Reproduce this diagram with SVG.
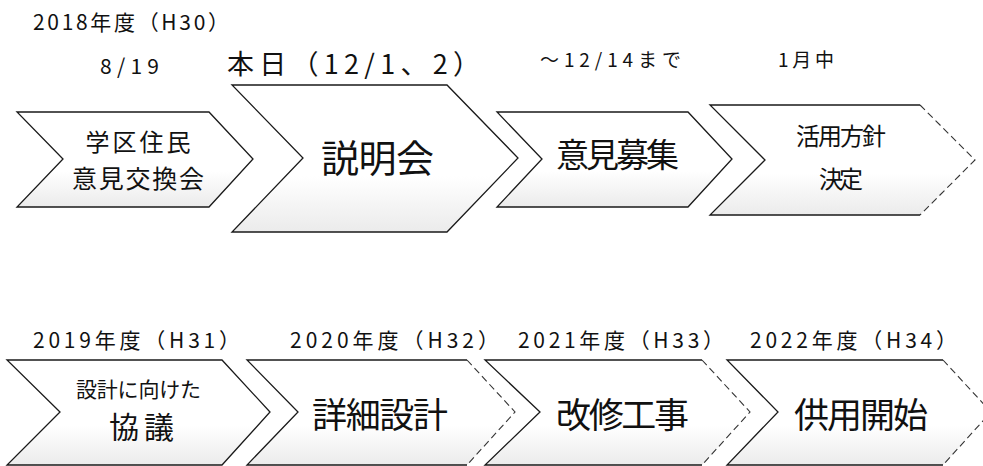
<svg xmlns="http://www.w3.org/2000/svg" width="983" height="466" viewBox="0 0 983 466">
  <style>
    text { font-family: "Noto Sans CJK JP", "Noto Sans", sans-serif; fill: #111; }
    .lbl { font-size: 21px; }
    .mid { text-anchor: middle; }
    .body { fill: url(#shade); stroke: none; }
    .edge { fill: none; stroke: #1a1a1a; stroke-width: 1.3; stroke-linejoin: miter; }
    .dash { fill: none; stroke: #333; stroke-width: 1.1; stroke-dasharray: 7 4; }
  </style>
  <defs>
    <linearGradient id="shade" x1="0" y1="0" x2="0" y2="1">
      <stop offset="0" stop-color="#ffffff"/>
      <stop offset="0.62" stop-color="#ffffff"/>
      <stop offset="1" stop-color="#ebebeb"/>
    </linearGradient>
  </defs>
  <rect width="983" height="466" fill="#ffffff"/>

  <!-- period labels -->
  <g id="labels">
    <text class="lbl" x="33" y="30" textLength="196" lengthAdjust="spacing">2018年度（H30）</text>
    <text class="lbl" x="100" y="74" textLength="59" lengthAdjust="spacing">8/19</text>
    <text x="227" y="74" font-size="27" textLength="253" lengthAdjust="spacing">本日（12/1、2）</text>
    <text x="540" y="67" font-size="19" textLength="141" lengthAdjust="spacing">～12/14まで</text>
    <text x="778" y="67" font-size="19" textLength="56" lengthAdjust="spacing">1月中</text>
    <text class="lbl" x="33" y="348" textLength="207" lengthAdjust="spacing">2019年度（H31）</text>
    <text class="lbl" x="290" y="348" textLength="209" lengthAdjust="spacing">2020年度（H32）</text>
    <text class="lbl" x="518" y="348" textLength="206" lengthAdjust="spacing">2021年度（H33）</text>
    <text class="lbl" x="750" y="348" textLength="207" lengthAdjust="spacing">2022年度（H34）</text>
  </g>

  <g id="connectors"></g>

  <!-- top row -->
  <g id="node-ikenkoukan">
    <path class="body" d="M17,112 L209,112 L253,159 L209,207 L17,207 L63,159 Z"/>
    <path class="edge" d="M17,112 L209,112 L253,159 L209,207 L17,207 L63,159 Z"/>
    <text class="mid" x="138" y="151" font-size="24" textLength="105" lengthAdjust="spacing">学区住民</text>
    <text class="mid" x="138" y="188" font-size="25" textLength="132" lengthAdjust="spacing">意見交換会</text>
  </g>
  <g id="node-setsumeikai">
    <path class="body" d="M232,85 L447,85 L518,158 L447,232 L232,232 L303,158 Z"/>
    <path class="edge" d="M232,85 L447,85 L518,158 L447,232 L232,232 L303,158 Z"/>
    <text class="mid" x="377.5" y="172" font-size="38" textLength="113" lengthAdjust="spacing">説明会</text>
  </g>
  <g id="node-ikenboshu">
    <path class="body" d="M497,112 L688,112 L732,159 L688,207 L497,207 L542,159 Z"/>
    <path class="edge" d="M497,112 L688,112 L732,159 L688,207 L497,207 L542,159 Z"/>
    <text class="mid" x="617.5" y="167" font-size="33" textLength="123" lengthAdjust="spacing">意見募集</text>
  </g>
  <g id="node-houshin">
    <path class="body" d="M710,105 L920,105 L975,160 L920,215 L710,215 L765,160 Z"/>
    <path class="edge" d="M920,105 L710,105 L765,160 L710,215 L920,215"/>
    <path class="dash" d="M920,105 L975,160 L920,215"/>
    <text class="mid" x="841" y="145" font-size="24" textLength="90" lengthAdjust="spacing">活用方針</text>
    <text class="mid" x="841" y="188" font-size="24" textLength="44" lengthAdjust="spacing">決定</text>
  </g>

  <!-- bottom row -->
  <g id="node-kyougi">
    <path class="body" d="M7,360 L222,360 L270,412 L222,465 L7,465 L60,412 Z"/>
    <path class="edge" d="M7,360 L222,360 L270,412 L222,465 L7,465 L60,412 Z"/>
    <text class="mid" x="138.5" y="397" font-size="21" textLength="125" lengthAdjust="spacing">設計に向けた</text>
    <text class="mid" x="141.5" y="438" font-size="30" textLength="65" lengthAdjust="spacing">協議</text>
  </g>
  <g id="node-shousai">
    <path class="body" d="M247,360 L467,360 L515,412 L467,465 L247,465 L298,412 Z"/>
    <path class="edge" d="M467,360 L247,360 L298,412 L247,465 L467,465"/>
    <path class="dash" d="M467,360 L515,412 L467,465"/>
    <text class="mid" x="380" y="428" font-size="35" textLength="136" lengthAdjust="spacing">詳細設計</text>
  </g>
  <g id="node-kaishu">
    <path class="body" d="M485,360 L702,360 L750,412 L702,465 L485,465 L540,412 Z"/>
    <path class="edge" d="M702,360 L485,360 L540,412 L485,465 L702,465"/>
    <path class="dash" d="M702,360 L750,412 L702,465"/>
    <text class="mid" x="622.5" y="428" font-size="35" textLength="133" lengthAdjust="spacing">改修工事</text>
  </g>
  <g id="node-kaishi">
    <path class="body" d="M727,360 L943,360 L991,412 L943,465 L727,465 L778,412 Z"/>
    <path class="edge" d="M943,360 L727,360 L778,412 L727,465 L943,465"/>
    <path class="dash" d="M943,360 L991,412 L943,465"/>
    <text class="mid" x="861" y="428" font-size="35" textLength="134" lengthAdjust="spacing">供用開始</text>
  </g>
</svg>
